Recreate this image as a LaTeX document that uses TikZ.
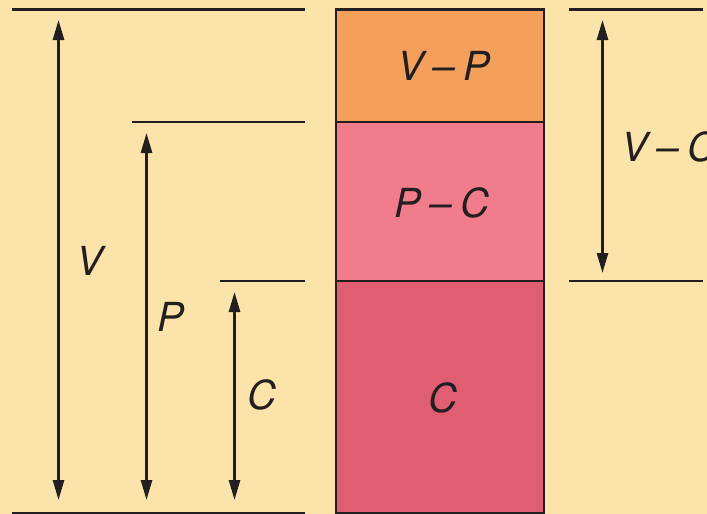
\documentclass[tikz,border=0pt]{standalone}
\usepackage{fontspec}
\setmainfont{TeX Gyre Heros}
\usepackage{xcolor}
\usetikzlibrary{arrows.meta, positioning, calc}

\definecolor{paper}{HTML}{FCE3A9}
\definecolor{ink}{HTML}{231F20}
\definecolor{vpfill}{HTML}{F49F5A}
\definecolor{pcfill}{HTML}{F07C8C}
\definecolor{cfill}{HTML}{E05E71}

\tikzset{
  level/.style={line width=2.7pt, draw=ink},
  dim/.style={line width=2.7pt, draw=ink,
    {Triangle[length=20pt,width=11pt]}-{Triangle[length=20pt,width=11pt]}},
  lbl/.style={font=\fontsize{40}{40}\selectfont\itshape, text=ink, inner sep=0pt},
}

\begin{document}
\begin{tikzpicture}[x=1pt,y=-1pt]
          % background, also fixes the size
          \fill[paper] (0,0) rectangle (707,514);
          \useasboundingbox (0,0) rectangle (707,514);

          % levels on the left
          \coordinate (V0) at (12,9.5);
          \coordinate (P0) at (132,122);
          \coordinate (C0) at (220,281);
          \coordinate (B0) at (12,513);

          \draw[level] (V0) -- (305,9.5);
          \draw[level] (P0) -- (305,122);
          \draw[level] (C0) -- (305,281);
          \draw[level] (B0) -- (305,513);

          % dimension arrows
          \coordinate (Vt) at (58.5,20);
          \coordinate (Vb) at (58.5,500);
          \coordinate (Pt) at (146.5,133);
          \coordinate (Pb) at (146.5,500);
          \coordinate (Ct) at (234.5,292);
          \coordinate (Cb) at (234.5,500);

          \draw[dim] (Vt) -- (Vb);
          \draw[dim] (Pt) -- (Pb);
          \draw[dim] (Ct) -- (Cb);

          \node[lbl] (Vlbl) at (90,261) {V};
          \node[lbl] (Plbl) at (171,317) {P};
          \node[lbl] (Clbl) at (262,395) {C};

          % the stacked column
          \coordinate (A) at (336,9.5);
          \coordinate (B) at (544,122);
          \coordinate (D) at (336,122);
          \coordinate (E) at (544,281);
          \coordinate (F) at (336,281);
          \coordinate (G) at (544,513);

          \fill[vpfill] (A) rectangle (B);
          \fill[pcfill] (D) rectangle (E);
          \fill[cfill] (F) rectangle (G);
          \draw[level] (A) rectangle (G);
          \draw[level] (D) -- (B |- D);
          \draw[level] (F) -- (E);

          \node[lbl] (vp) at (444,66) {V\:–\:P};
          \node[lbl] (pc) at (442,203) {P\:–\:C};
          \node[lbl] (c) at (443,398) {C};

          % difference on the right
          \coordinate (R0) at (569,9.5);
          \coordinate (R1) at (569,281);
          \coordinate (Rt) at (602.5,20);
          \coordinate (Rb) at (602.5,273);

          \draw[level] (R0) -- (703,9.5);
          \draw[level] (R1) -- (703,281);
          \draw[dim] (Rt) -- (Rb);
          \node[lbl, anchor=west] (vc) at (621,147) {V\:–\:C};
        \end{tikzpicture}
\end{document}
